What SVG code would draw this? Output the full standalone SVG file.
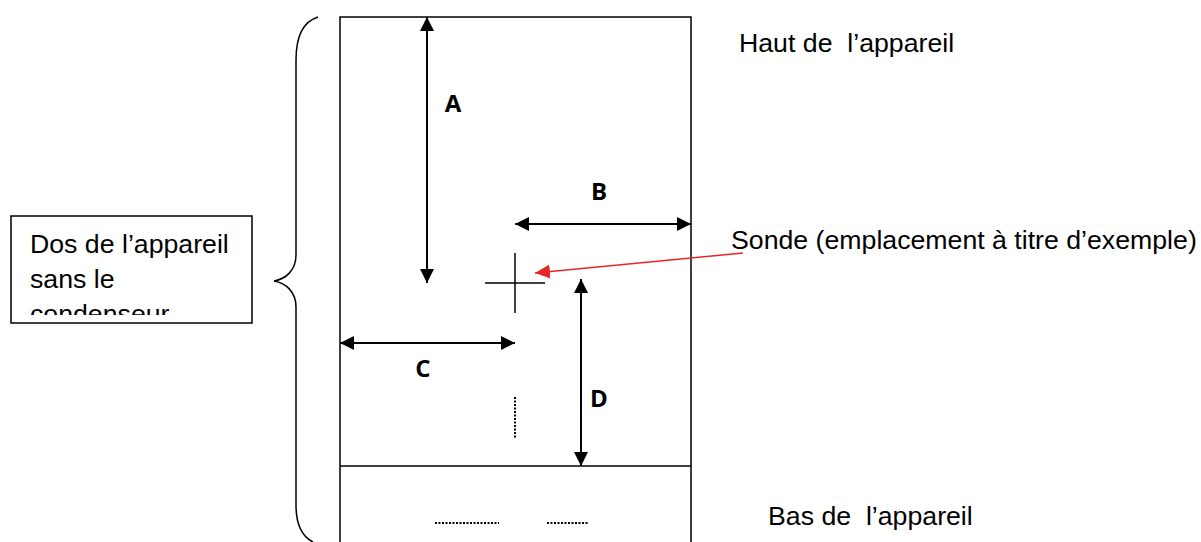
<svg xmlns="http://www.w3.org/2000/svg" width="1201" height="542" viewBox="0 0 1201 542">
<style>
.ln{stroke:#000;stroke-width:1.5;fill:none}
.ar{stroke:#000;stroke-width:2;fill:none}
.t{font-family:"Liberation Sans",Arial,sans-serif;font-size:26.7px;fill:#000}
.lb{font-family:"Open Sans","Liberation Sans",sans-serif;font-weight:bold;font-size:24px;fill:#000;text-anchor:middle}
.dot{stroke:#000;stroke-width:2;stroke-dasharray:2 1.5;fill:none}
</style>
<defs>
<marker id="ah" markerWidth="14" markerHeight="14" refX="14" refY="7" orient="auto-start-reverse" markerUnits="userSpaceOnUse"><path d="M0,0 L14,7 L0,14 Z" fill="#000"/></marker>
<marker id="rh" markerWidth="15" markerHeight="14" refX="15" refY="7" orient="auto" markerUnits="userSpaceOnUse"><path d="M0,0 L15,7 L0,14 Z" fill="#e8262a"/></marker>
<clipPath id="cb"><rect x="11" y="216" width="241" height="99"/></clipPath>
</defs>
<rect width="1201" height="542" fill="#fff"/>
<g id="appareil">
<path class="ln" d="M340,542 V17 H691 V542"/>
<line class="ln" x1="340" y1="466" x2="691" y2="466"/>
</g>
<g id="accolade">
<path class="ln" d="M318,17 C302,22 296,38 296,60 V255 C296,270 286,279 274,281 C286,283 296,292 296,307 V505 C296,525 303,537 313,542"/>
</g>
<g id="dos">
<rect x="11" y="216" width="241" height="107" fill="#fff" stroke="#000" stroke-width="1.5"/>
<g clip-path="url(#cb)">
<text class="t" x="30" y="253">Dos de l’appareil</text>
<text class="t" x="30" y="288">sans le</text>
<text class="t" x="30" y="323">condenseur</text>
</g>
</g>
<g id="sonde">
<line class="ln" x1="485" y1="283" x2="545" y2="283"/>
<line class="ln" x1="515" y1="253" x2="515" y2="313"/>
</g>
<g id="connecteurs">
<line class="ar" x1="427" y1="17" x2="427" y2="283" marker-start="url(#ah)" marker-end="url(#ah)"/>
<line class="ar" x1="515" y1="224" x2="691" y2="224" marker-start="url(#ah)" marker-end="url(#ah)"/>
<line class="ar" x1="340" y1="343" x2="515" y2="343" marker-start="url(#ah)" marker-end="url(#ah)"/>
<line class="ar" x1="581" y1="279" x2="581" y2="466" marker-start="url(#ah)" marker-end="url(#ah)"/>
<line x1="743" y1="253" x2="535" y2="273" stroke="#e8262a" stroke-width="1.5" marker-end="url(#rh)"/>
<line class="dot" x1="515" y1="397" x2="515" y2="438"/>
<line class="dot" x1="435" y1="523" x2="499" y2="523"/>
<line class="dot" x1="547" y1="523" x2="588" y2="523"/>
</g>
<g id="labels">
<text class="lb" x="453" y="112">A</text>
<text class="lb" x="599" y="200">B</text>
<text class="lb" x="423" y="377">C</text>
<text class="lb" x="599" y="407">D</text>
<text class="t" x="739" y="52" xml:space="preserve">Haut de  l’appareil</text>
<text class="t" x="731" y="249">Sonde (emplacement à titre d’exemple)</text>
<text class="t" x="768" y="525" xml:space="preserve">Bas de  l’appareil</text>
</g>
</svg>
